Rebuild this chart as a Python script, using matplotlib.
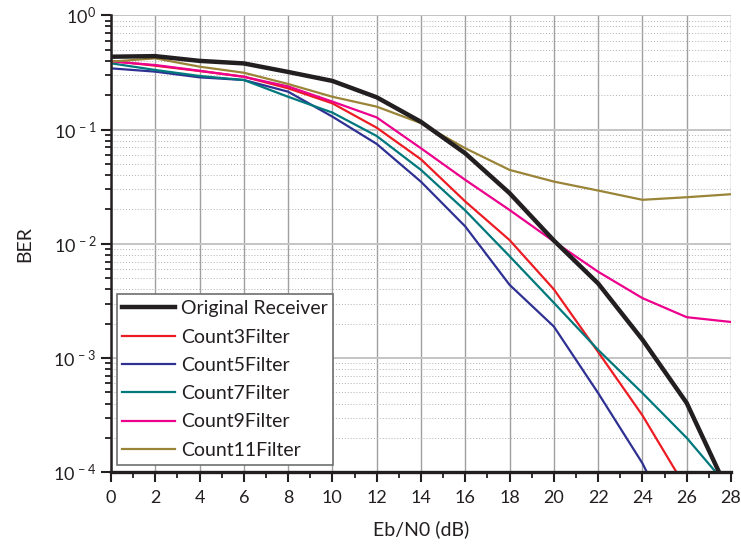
import numpy as np
import matplotlib
matplotlib.use("Agg")
import matplotlib.pyplot as plt
from matplotlib.ticker import LogLocator, FixedLocator, NullFormatter, FuncFormatter

plt.rcParams['font.family'] = ['Lato', 'DejaVu Sans']
plt.rcParams['mathtext.fontset'] = 'custom'
plt.rcParams['mathtext.rm'] = 'Lato'
plt.rcParams['mathtext.it'] = 'Lato'

# Eb/N0 sweep (dB) and BER per receiver
ebn0 = [0, 2, 4, 6, 8, 10, 12, 14, 16, 18, 20, 22, 24, 26, 28]

ber_original = [0.435, 0.44, 0.40, 0.38, 0.32, 0.267, 0.192, 0.117, 0.062, 0.0278,
                0.0107, 0.0045, 0.00145, 0.000404, 0.00006]
ber_count3 = [0.40, 0.363, 0.326, 0.291, 0.23, 0.17, 0.104, 0.055, 0.0235, 0.0108,
              0.004, 0.00113, 0.000315, 0.000071]
ber_count5 = [0.344, 0.322, 0.287, 0.272, 0.215, 0.13, 0.075, 0.035, 0.0142, 0.00438,
              0.00189, 0.000494, 0.00012, 0.00002]
ber_count7 = [0.381, 0.333, 0.295, 0.272, 0.194, 0.141, 0.088, 0.0444, 0.0196, 0.0078,
              0.00305, 0.00118, 0.000494, 0.0002, 0.00007]
ber_count9 = [0.395, 0.368, 0.328, 0.29, 0.239, 0.176, 0.128, 0.0687, 0.0363, 0.0198,
              0.0105, 0.0057, 0.00335, 0.00228, 0.00207]
ber_count11 = [0.394, 0.421, 0.356, 0.315, 0.251, 0.194, 0.159, 0.114, 0.0687, 0.0444,
               0.0351, 0.0293, 0.0243, 0.0256, 0.0272]

fig = plt.figure(figsize=(7.41, 5.47), dpi=100)
ax = fig.add_axes([0.1497, 0.1366, 0.8368, 0.8352])

ax.plot(ebn0, ber_original, color='#231f20', lw=3.2, label='Original Receiver', zorder=6)
ax.plot(ebn0[:len(ber_count3)], ber_count3, color='#ed1c24', lw=1.6, label='Count3Filter')
ax.plot(ebn0[:len(ber_count5)], ber_count5, color='#2e3192', lw=1.6, label='Count5Filter')
ax.plot(ebn0, ber_count7, color='#00787c', lw=1.6, label='Count7Filter')
ax.plot(ebn0, ber_count9, color='#ec008c', lw=1.6, label='Count9Filter')
ax.plot(ebn0, ber_count11, color='#9a8437', lw=1.6, label='Count11Filter')

ax.set_yscale('log')
ax.set_xlim(0, 28)
ax.set_ylim(1e-4, 1)

ax.xaxis.set_major_locator(FixedLocator(np.arange(0, 29, 2)))
ax.xaxis.set_minor_locator(FixedLocator(np.arange(1, 28, 2)))
ax.yaxis.set_major_locator(LogLocator(base=10, numticks=10))
ax.yaxis.set_minor_locator(LogLocator(base=10, subs=np.arange(2, 10), numticks=20))
ax.yaxis.set_minor_formatter(NullFormatter())


def decade_label(v, pos):
    k = int(round(np.log10(v)))
    return r'10$^{\,%d}$' % k if k < 0 else r'10$^{%d}$' % k


ax.yaxis.set_major_formatter(FuncFormatter(decade_label))

ax.grid(True, which='major', axis='x', color='#a0a0a0', lw=1.0)
ax.grid(True, which='major', axis='y', color='#c4c4c4', lw=1.4)
ax.grid(True, which='minor', axis='y', color='#b0b0b0', lw=0.7, ls=(0, (1, 2)))
ax.set_axisbelow(True)

for side in ['top', 'right']:
    ax.spines[side].set_visible(False)
ax.spines['left'].set_linewidth(1.8)
ax.spines['bottom'].set_linewidth(2.4)
ax.spines['left'].set_color('#231f20')
ax.spines['bottom'].set_color('#231f20')

ax.tick_params(which='major', direction='out', length=7, width=1.5, colors='#231f20',
               labelsize=13, labelcolor='#231f20')
ax.tick_params(which='minor', direction='out', length=4, width=1.3, colors='#231f20')
ax.tick_params(axis='x', pad=6)

ax.set_xlabel('Eb/N0 (dB)', fontsize=14, color='#231f20', labelpad=10)
ax.set_ylabel('BER', fontsize=14, color='#231f20', labelpad=14)

leg = ax.legend(loc='lower left', bbox_to_anchor=(0.009, 0.017), fontsize=14,
                handlelength=2.7, handletextpad=0.3, labelspacing=0.58,
                borderpad=0.3, borderaxespad=0, fancybox=False, framealpha=1)
leg.get_frame().set_edgecolor('#6d6e71')
leg.get_frame().set_linewidth(1.2)
for t in leg.get_texts():
    t.set_color('#231f20')

fig.savefig('out.png', dpi=100)
